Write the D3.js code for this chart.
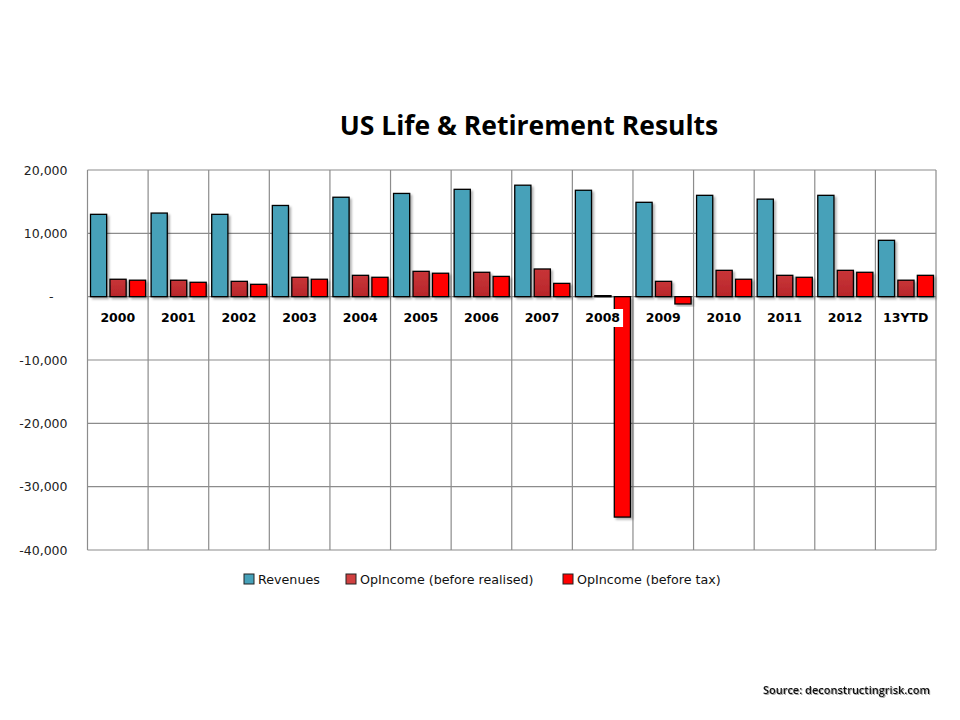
<!DOCTYPE html>
<html><head><meta charset="utf-8">
<script src="https://cdn.jsdelivr.net/npm/d3@7"></script>
<style>body{margin:0;background:#fff}</style>
</head><body>
<svg id="c" width="960" height="720"></svg>
<script>
const categories = ["2000","2001","2002","2003","2004","2005","2006","2007","2008","2009","2010","2011","2012","13YTD"];
const seriesNames = ["Revenues","OpIncome (before realised)","OpIncome (before tax)"];
const revenues = [13000,13200,13000,14400,15700,16300,16950,17600,16800,14900,16000,15400,16000,8900];
const opBeforeRealised = [2750,2600,2420,3060,3370,4000,3850,4370,200,2420,4160,3370,4160,2600];
const opBeforeTax = [2600,2270,1950,2750,3060,3700,3200,2100,-34800,-1150,2750,3060,3850,3370];
const yTicks = [20000,10000,0,-10000,-20000,-30000,-40000];
const colors = ["#46A1B9","#C0282D","#FF0000"];

const svg = d3.select("#c");
const L=87.5, R=936, T=170, B=550;
const x = d3.scaleBand().domain(categories).range([L,R]);
const x1 = d3.scaleBand().domain([0,1,2]).range([3, x.bandwidth()-2.5]).paddingInner(0.17);
const y = d3.scaleLinear().domain([-40000,20000]).range([B,T]);

const defs = svg.append("defs");
const f = defs.append("filter").attr("id","sh").attr("x","-20%").attr("y","-20%").attr("width","150%").attr("height","150%");
f.append("feDropShadow").attr("dx",2).attr("dy",2).attr("stdDeviation",1.2).attr("flood-color","#000").attr("flood-opacity",0.3);
const g2 = defs.append("linearGradient").attr("id","dr").attr("x1",0).attr("y1",0).attr("x2",0).attr("y2",1);
g2.append("stop").attr("offset","0%").attr("stop-color","#C83538");
g2.append("stop").attr("offset","100%").attr("stop-color","#B8262A");
const ts = defs.append("filter").attr("id","tsh");
ts.append("feDropShadow").attr("dx",1).attr("dy",1).attr("stdDeviation",0.6).attr("flood-color","#000").attr("flood-opacity",0.35);

// title
svg.append("text").attr("x",529).attr("y",135).attr("text-anchor","middle")
  .attr("font-family","'Open Sans', 'Liberation Sans', sans-serif").attr("font-weight","bold")
  .attr("font-size",26.5).attr("fill","#000").text("US Life & Retirement Results");

// grid
const grid = svg.append("g");
yTicks.forEach(t=>{
  grid.append("line").attr("x1",L).attr("x2",R).attr("y1",y(t)).attr("y2",y(t)).attr("stroke","#8c8c8c").attr("stroke-width",1.2);
});
categories.forEach(c=>{
  grid.append("line").attr("x1",x(c)).attr("x2",x(c)).attr("y1",T).attr("y2",B).attr("stroke","#8c8c8c").attr("stroke-width",1.2);
});
grid.append("line").attr("x1",R).attr("x2",R).attr("y1",T).attr("y2",B).attr("stroke","#8c8c8c").attr("stroke-width",1.2);

// y axis labels
const yAxis = d3.axisLeft(y).tickValues(yTicks).tickSize(0).tickPadding(20)
  .tickFormat(d=> d===0 ? "-" : (d<0 ? "-" : "") + d3.format(",")(Math.abs(d)));
const ya = svg.append("g").attr("transform",`translate(${L},0)`).call(yAxis);
ya.select(".domain").remove();
ya.selectAll("text").attr("font-family","'DejaVu Sans', sans-serif").attr("font-size",12.5).attr("fill","#222");
ya.selectAll(".tick").filter(d=>d===0).select("text").attr("dx",-14);

// bars
const series = [revenues, opBeforeRealised, opBeforeTax];
const bars = svg.append("g");
categories.forEach((c,i)=>{
  series.forEach((s,j)=>{
    const v = s[i];
    bars.append("rect")
      .attr("x", x(c)+x1(j)).attr("width", x1.bandwidth())
      .attr("y", y(Math.max(0,v))).attr("height", Math.max(1, Math.abs(y(v)-y(0))))
      .attr("fill", j===1 ? "url(#dr)" : colors[j])
      .attr("stroke","#000").attr("stroke-width",1.3)
      .attr("filter","url(#sh)");
  });
});

// category labels with white background
const xl = svg.append("g");
categories.forEach(c=>{
  const cx = x(c)+x.bandwidth()/2;
  const t = xl.append("text").attr("x",cx).attr("y",322).attr("text-anchor","middle")
    .attr("font-family","'DejaVu Sans', sans-serif").attr("font-weight","bold").attr("font-size",12.5)
    .attr("fill","#000").text(c);
  const bb = t.node().getBBox();
  xl.insert("rect","text").attr("x",bb.x-3).attr("y",bb.y-1).attr("width",bb.width+6).attr("height",bb.height+3).attr("fill","#fff");
});
xl.selectAll("text").raise();

// legend
const legX = [244, 346, 563];
const leg = svg.append("g");
seriesNames.forEach((n,j)=>{
  leg.append("rect").attr("x",legX[j]).attr("y",574).attr("width",10).attr("height",10)
    .attr("fill", j===1 ? "#D04040" : colors[j]).attr("stroke","#222").attr("stroke-width",1);
  leg.append("text").attr("x",legX[j]+14).attr("y",584)
    .attr("font-family","'DejaVu Sans', sans-serif").attr("font-size",12.7).attr("fill","#111").text(n);
});

// source
svg.append("text").attr("x",930).attr("y",694).attr("text-anchor","end")
  .attr("font-family","'Open Sans', 'Liberation Sans', sans-serif").attr("font-size",11).attr("font-weight","600")
  .attr("fill","#111").attr("filter","url(#tsh)").text("Source: deconstructingrisk.com");
</script>
</body></html>
